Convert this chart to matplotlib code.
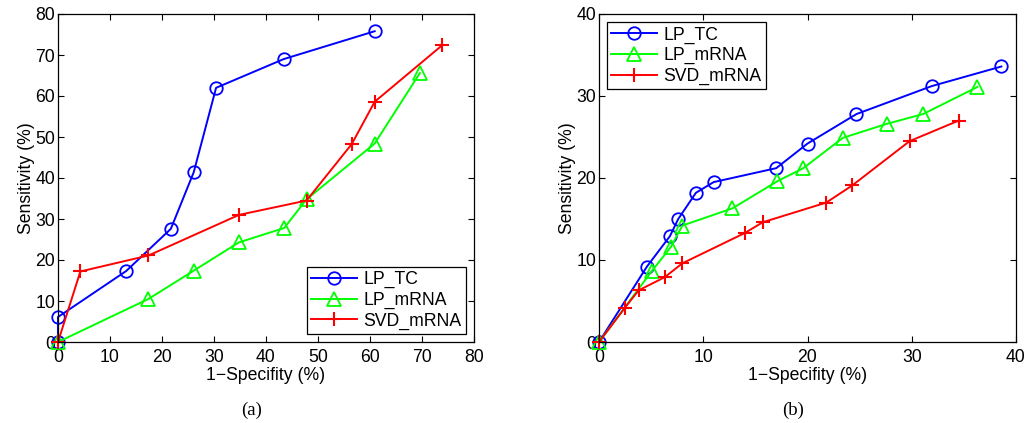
import matplotlib
matplotlib.use('Agg')
import matplotlib.pyplot as plt

# panel (a)
a_tc_x = [0, 0, 13.1, 21.7, 26.1, 30.4, 43.4, 60.9]
a_tc_y = [0, 6.1, 17.3, 27.6, 41.4, 62.0, 69.0, 75.8]
a_mrna_x = [0, 17.4, 26.1, 34.8, 43.5, 47.8, 60.9, 69.6]
a_mrna_y = [0, 10.5, 17.4, 24.3, 27.8, 34.8, 48.4, 65.6]
a_svd_x = [0, 4.3, 17.4, 34.8, 47.8, 56.5, 60.9, 73.9]
a_svd_y = [0, 17.2, 21.1, 31.0, 34.5, 48.3, 58.6, 72.4]

# panel (b)
b_tc_x = [0, 4.6, 6.8, 7.6, 9.3, 11.0, 17.0, 20.0, 24.7, 31.9, 38.6]
b_tc_y = [0, 9.2, 12.9, 15.0, 18.2, 19.5, 21.2, 24.2, 27.8, 31.2, 33.6]
b_mrna_x = [0, 5.1, 6.9, 8.0, 12.8, 17.1, 19.6, 23.4, 27.6, 31.1, 36.3]
b_mrna_y = [0, 8.7, 11.6, 14.2, 16.3, 19.6, 21.2, 24.9, 26.6, 27.8, 31.1]
b_svd_x = [0, 2.5, 3.8, 6.3, 8.0, 14.0, 15.7, 21.8, 24.3, 29.8, 34.5]
b_svd_y = [0, 4.2, 6.3, 7.9, 9.6, 13.3, 14.6, 17.0, 19.1, 24.5, 27.0]

labels = ['LP_TC', 'LP_mRNA', 'SVD_mRNA']
a_ticks = [0, 10, 20, 30, 40, 50, 60, 70, 80]
b_ticks = [0, 10, 20, 30, 40]

plt.rcParams['font.family'] = ['Liberation Sans', 'DejaVu Sans']

W, H = 1025, 423
fig = plt.figure(figsize=(W / 100, H / 100), dpi=100)
fs = 12.7

def panel(rect, series, ticks, lim, legloc):
    ax = fig.add_axes([rect[0] / W, (H - rect[3]) / H,
                       (rect[2] - rect[0]) / W, (rect[3] - rect[1]) / H])
    styles = [dict(color='#0000ff', marker='o', markersize=9, mfc='none', mew=1.3),
              dict(color='#00ff00', marker='^', markersize=10, mfc='none', mew=1.3),
              dict(color='#ff0000', marker='+', markersize=10, mew=1.5)]
    for (xs, ys), lab, st in zip(series, labels, styles):
        ax.plot(xs, ys, lw=1.4, label=lab, clip_on=False, **st)
    ax.set_xlim(lim)
    ax.set_ylim(lim)
    ax.set_xticks(ticks)
    ax.set_yticks(ticks)
    ax.tick_params(direction='in', length=4, width=0.8, top=True, right=True,
                   labelsize=fs, pad=2)
    ax.tick_params(axis='x', pad=5)
    for s in ax.spines.values():
        s.set_linewidth(0.9)
    ax.set_xlabel('1\u2212Specifity (%)', fontsize=fs, labelpad=1)
    ax.set_ylabel('Sensitivity (%)', fontsize=fs, labelpad=0)
    leg = ax.legend(loc=legloc, fancybox=False, framealpha=1, edgecolor='black',
                    fontsize=fs, handlelength=2.6, borderpad=0.25, labelspacing=0.2,
                    handletextpad=0.35, borderaxespad=0.45)
    leg.get_frame().set_linewidth(0.9)
    return ax

panel((58, 14, 474, 342),
      [(a_tc_x, a_tc_y), (a_mrna_x, a_mrna_y), (a_svd_x, a_svd_y)],
      a_ticks, (0, 80), 'lower right')
panel((599, 14, 1016, 342),
      [(b_tc_x, b_tc_y), (b_mrna_x, b_mrna_y), (b_svd_x, b_svd_y)],
      b_ticks, (0, 40), 'upper left')

fig.text(252 / W, 1 - 410 / H, '(a)', ha='center', va='center',
         family='Liberation Serif', fontsize=13.5)
fig.text(793 / W, 1 - 410 / H, '(b)', ha='center', va='center',
         family='Liberation Serif', fontsize=13.5)

fig.savefig('out.png', dpi=100)
